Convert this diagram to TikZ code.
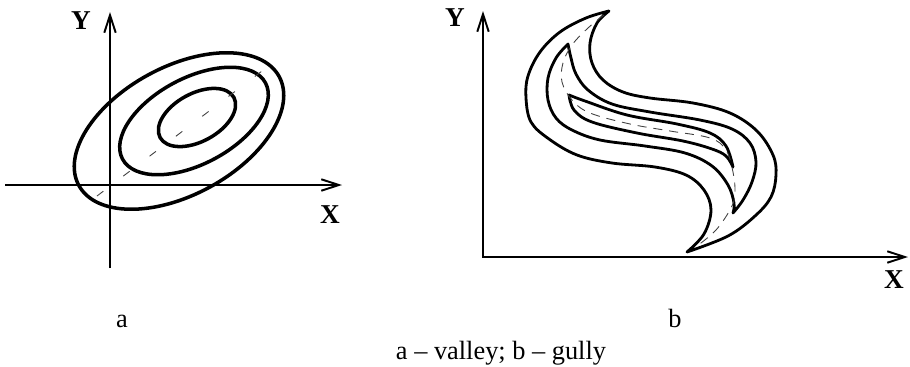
\documentclass[tikz,border=0pt]{standalone}
\usepackage{fontspec}
\setmainfont{Liberation Serif}
\usepackage{tikz}
\usetikzlibrary{arrows.meta}

\begin{document}
\begin{tikzpicture}[
                x=0.02cm, y=-0.02cm,
                axis/.style={line width=1.1pt, -{Straight Barb[length=10pt,width=6.5pt]}},
                ring/.style={line width=2pt},
                bank/.style={line width=1.6pt, line join=round},
                thalweg/.style={line width=0.5pt, black!75, dash pattern=on 1.6mm off 5mm},
                talweg/.style={line width=0.5pt, black!75, dash pattern=on 1.8mm off 1.4mm},
                lab/.style={font=\fontsize{15.5}{18}\selectfont\bfseries, inner sep=0pt},
                sublab/.style={font=\fontsize{15}{18}\selectfont, inner sep=0pt, anchor=base},
            ]
            \useasboundingbox (0,0) rectangle (910,366);

            % a: valley
            \coordinate (yAbot) at (110,268);
            \coordinate (yAtop) at (110,12);
            \coordinate (xAleft) at (5,185);
            \coordinate (xAtip) at (342,185);
            \draw[axis] (yAbot) -- (yAtop);
            \draw[axis] (xAleft) -- (xAtip);
            \node[lab] (yA) at (81,21) {Y};
            \node[lab] (xA) at (330,215) {X};

            \coordinate (cOut) at (179,131);
            \coordinate (cMid) at (194,121);
            \coordinate (cIn) at (197,117.5);
            \draw[ring, rotate around={28.5:(cOut)}] (cOut) ellipse [x radius=114, y radius=64];
            \draw[ring, rotate around={28:(cMid)}] (cMid) ellipse [x radius=81, y radius=43];
            \draw[ring, rotate around={28.5:(cIn)}] (cIn) ellipse [x radius=42, y radius=24];
            \coordinate (dA1) at (97,196);
            \coordinate (dA2) at (266,68);
            \draw[thalweg] (dA1) -- (dA2);

            % b: gully
            \coordinate (oB) at (483,257);
            \coordinate (yBtop) at (483,11);
            \coordinate (xBtip) at (908,257);
            \draw[axis, {Straight Barb[length=10pt,width=6.5pt]}-{Straight Barb[length=10pt,width=6.5pt]}] (yBtop) -- (oB) -- (xBtip);
            \node[lab] (yB) at (455,18) {Y};
            \node[lab] (xB) at (894,280) {X};

            % outer bank
            \draw[bank] plot[smooth, tension=0.6] coordinates {(609,11) (586,18) (560,32) (540,52) (528,76) (526,98) (531,122) (549,139) (577,155) (612,163) (655,167) (686,175) (704,190) (711,210) (704,234) (687,252)}
                -- plot[smooth, tension=0.6] coordinates {(687,252) (728,236) (755,216) (771,197) (776,175) (773,155) (757,131) (730,113) (693,103) (650,98) (623,92) (603,80) (592,63) (590,43) (597,23) (609,11)} -- cycle;
            % middle bank
            \draw[bank] plot[smooth, tension=0.6] coordinates {(568,44) (556,58) (548,78) (548,100) (556,118) (572,130) (600,140) (645,146) (685,153) (712,166) (728,185) (734,203) (733,213)}
                -- plot[smooth, tension=0.6] coordinates {(733,213) (743,200) (752,182) (756,162) (750,143) (732,129) (700,120) (650,112) (612,104) (588,90) (576,74) (571,58) (568,44)} -- cycle;
            % inner bank
            \draw[bank] plot[smooth, tension=0.6] coordinates {(569,95) (585,101) (627,115) (677,124) (710,133) (726,146) (733,167)}
                -- plot[smooth, tension=0.6] coordinates {(733,167) (726,156) (712,149) (683,141) (637,133) (592,122) (574,110) (569,95)} -- cycle;
            % bottom line of the gully
            \draw[talweg] plot[smooth, tension=0.6] coordinates {(604,15) (588,28) (572,45) (563,63) (562,82) (572,100) (590,113) (630,124) (670,131) (710,138) (726,150) (733,172) (735,193) (731,208) (716,230) (697,246)};

            \node[sublab] (capA) at (122,327) {a};
            \node[sublab] (capB) at (675,327) {b};
            \node[sublab] (capAll) at (501,359) {a -- valley; b -- gully};
        \end{tikzpicture}
\end{document}
